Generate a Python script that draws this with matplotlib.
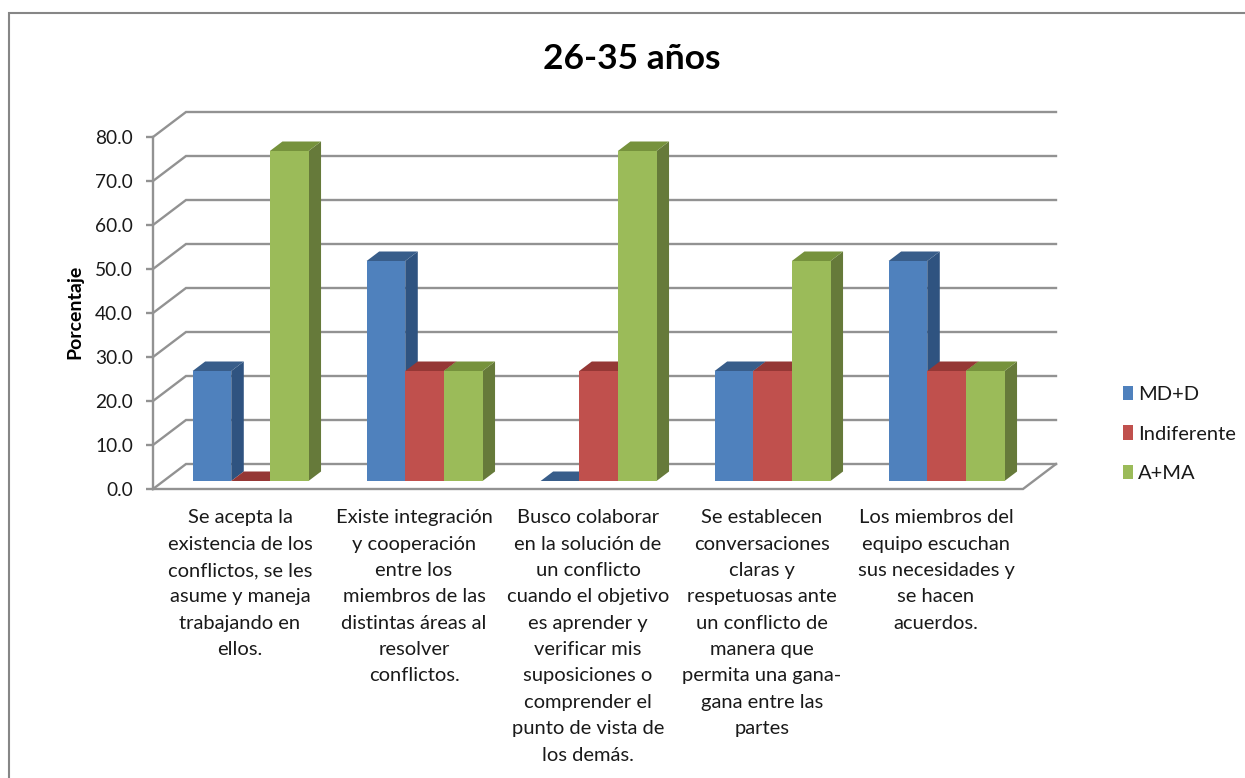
import matplotlib
matplotlib.use("Agg")
import matplotlib.pyplot as plt
from matplotlib.patches import Patch, Polygon, Rectangle

### Data ###

title = "26-35 años"
y_label = "Porcentaje"
categories = [
    "Se acepta la\nexistencia de los\nconflictos, se les\nasume y maneja\ntrabajando en\nellos.",
    "Existe integración\ny cooperación\nentre los\nmiembros de las\ndistintas áreas al\nresolver\nconflictos.",
    "Busco colaborar\nen la solución de\nun conflicto\ncuando el objetivo\nes aprender y\nverificar mis\nsuposiciones o\ncomprender el\npunto de vista de\nlos demás.",
    "Se establecen\nconversaciones\nclaras y\nrespetuosas ante\nun conflicto de\nmanera que\npermita una gana-\ngana entre las\npartes",
    "Los miembros del\nequipo escuchan\nsus necesidades y\nse hacen\nacuerdos.",
]
md_d = [25, 50, 0, 25, 50]
indiferente = [0, 25, 25, 25, 25]
a_ma = [75, 25, 75, 50, 25]
series_names = ["MD+D", "Indiferente", "A+MA"]
y_ticks = [0, 10, 20, 30, 40, 50, 60, 70, 80]

### Style ###

front_colors = ["#4F81BD", "#C0504D", "#9BBB59"]
side_colors = ["#2F5380", "#7F3230", "#667A3A"]
top_colors = ["#385D8A", "#953735", "#76923C"]
grid_color = "#929292"
text_color = "#1A1A1A"
font = "Lato"

W, H = 1245, 778
LEFT, RIGHT, BOTTOM, TOP = 153, 1023, 489, 137

plt.rcParams["font.family"] = font

fig = plt.figure(figsize=(W / 100, H / 100), dpi=100)
# chart frame runs off the right and bottom edges
fig.add_artist(Rectangle((9 / W, -0.01), 1.1, 1 - 13 / H + 0.01, transform=fig.transFigure,
                         facecolor="white", edgecolor="#868686", linewidth=1.5, zorder=-1))

ax = fig.add_axes([LEFT / W, 1 - BOTTOM / H, (RIGHT - LEFT) / W, (BOTTOM - TOP) / H])
ax.set_xlim(0, len(categories))
ax.set_ylim(0, 80)
ax.patch.set_visible(False)

# oblique depth of the plot box, in data units
depth_x = 33 / ((RIGHT - LEFT) / len(categories))
depth_y = 25 / ((BOTTOM - TOP) / 80)


def project(x, y, d):
    return (x + d * depth_x, y + d * depth_y)


def draw_walls():
    n = len(categories)
    for t in y_ticks:
        xs, ys = zip(project(0, t, 0), project(0, t, 1), project(n, t, 1))
        ax.plot(xs, ys, color=grid_color, lw=1.7, zorder=1, clip_on=False, solid_joinstyle="miter")
    xs, ys = zip(project(0, 0, 0), project(n, 0, 0), project(n, 0, 1))
    ax.plot(xs, ys, color=grid_color, lw=1.7, zorder=1, clip_on=False, solid_joinstyle="miter")


def draw_bar(x, w, value, i, zorder):
    d0, d1 = 0.32, 0.70
    front = [project(x, 0, d0), project(x + w, 0, d0), project(x + w, value, d0), project(x, value, d0)]
    side = [project(x + w, 0, d0), project(x + w, 0, d1), project(x + w, value, d1), project(x + w, value, d0)]
    top = [project(x, value, d0), project(x + w, value, d0), project(x + w, value, d1), project(x, value, d1)]
    for pts, col in ((side, side_colors[i]), (top, top_colors[i]), (front, front_colors[i])):
        ax.add_patch(Polygon(pts, closed=True, facecolor=col, edgecolor="none", zorder=zorder, clip_on=False))


draw_walls()

bar_w = 0.222
gap = (1 - 3 * bar_w) / 2
z = 2
for c in range(len(categories)):
    for i, values in enumerate([md_d, indiferente, a_ma]):
        draw_bar(c + gap + i * bar_w, bar_w, values[c], i, z)
        z += 1

for s in ["top", "right", "bottom"]:
    ax.spines[s].set_visible(False)
ax.spines["left"].set_color(grid_color)
ax.spines["left"].set_linewidth(1.7)

ax.set_yticks(y_ticks)
ax.set_yticklabels([f"{t:.1f}" for t in y_ticks], fontsize=13.8, color=text_color)
ax.tick_params(axis="y", length=5, width=1.7, color=grid_color, pad=9.5)

ax.set_xticks([c + 0.5 for c in range(len(categories))])
ax.set_xticklabels(categories, fontsize=14.5, color=text_color, linespacing=1.67)
ax.tick_params(axis="x", length=0, pad=14.5)

fig.text(75 / W, 1 - 312 / H, y_label, rotation=90, ha="center", va="center",
         fontsize=14, fontweight="bold", color="black")
fig.text(632 / W, 1 - 59 / H, title, ha="center", va="center",
         fontsize=25.5, fontweight="bold", color="black")

handles = [Patch(facecolor=c, edgecolor="none") for c in front_colors]
fig.legend(handles, series_names, loc="center left", bbox_to_anchor=(1105 / W, 1 - 434 / H),
           frameon=False, fontsize=14.5, handlelength=0.5, handleheight=0.7,
           handletextpad=0.25, labelspacing=1.1, labelcolor=text_color)

fig.savefig("out.png", dpi=100)
